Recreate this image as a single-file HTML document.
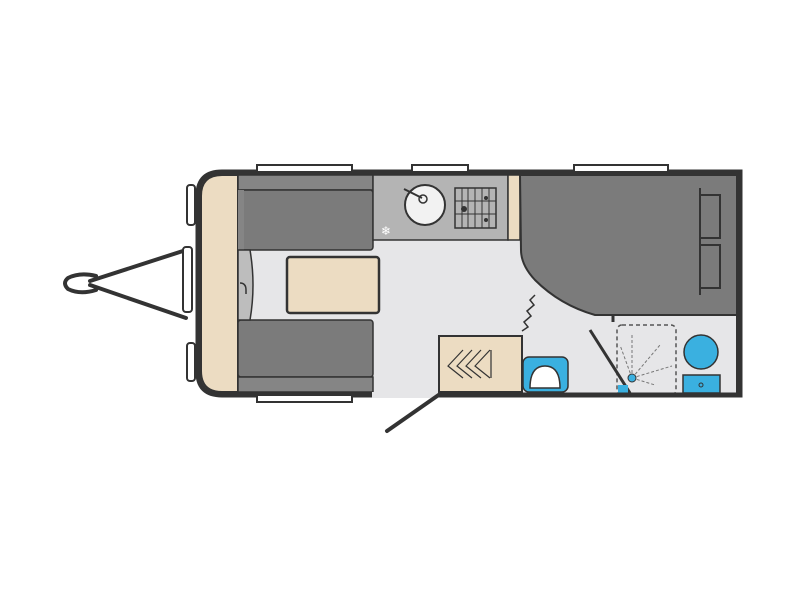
<!DOCTYPE html>
<html><head><style>body{margin:0;background:#fff}svg{display:block}</style></head><body>
<svg width="800" height="600" viewBox="0 0 800 600" xmlns="http://www.w3.org/2000/svg">
<rect width="800" height="600" fill="#fff"/>
<!-- hitch -->
<g stroke="#333" stroke-width="4" fill="none" stroke-linecap="round">
<line x1="90" y1="281" x2="186" y2="250"/>
<line x1="90" y1="285" x2="186" y2="318"/>
<path d="M96 276 Q80 272 68 278 Q62 283 68 289 Q80 295 96 290"/>
</g>
<!-- body -->
<path d="M222 172 L740 172 L740 395 L222 395 Q198 395 198 372 L198 195 Q198 172 222 172 Z" fill="#e6e6e8" stroke="#333" stroke-width="5"/>
<!-- front windows -->
<g fill="#fff" stroke="#333" stroke-width="2">
<rect x="187" y="185" width="8" height="40" rx="3"/>
<rect x="183" y="247" width="9" height="65" rx="3"/>
<rect x="187" y="343" width="8" height="38" rx="3"/>
<rect x="257" y="165" width="95" height="7"/>
<rect x="412" y="165" width="56" height="7"/>
<rect x="574" y="165" width="94" height="7"/>
<rect x="257" y="395" width="95" height="7"/>
</g>
<!-- front tan -->
<path d="M238 175 L222 175 Q201 175 201 196 L201 371 Q201 392 222 392 L238 392 Z" fill="#ecdcc2" stroke="#333" stroke-width="2"/>
<!-- seats -->
<rect x="238" y="175" width="135" height="15" fill="#858585" stroke="#333" stroke-width="1.5"/>
<rect x="238" y="190" width="135" height="60" rx="3" fill="#7b7b7b" stroke="#333" stroke-width="1.5"/>
<rect x="238" y="190" width="6" height="60" fill="#858585"/>
<rect x="238" y="320" width="135" height="57" rx="3" fill="#7b7b7b" stroke="#333" stroke-width="1.5"/>
<rect x="238" y="377" width="135" height="15" fill="#858585" stroke="#333" stroke-width="1.5"/>
<path d="M238 250 L250 250 Q256 285 250 320 L238 320 Z" fill="#bdbdbd" stroke="#333" stroke-width="1.5"/>
<path d="M240 283 Q246 283 246 290 L246 294" stroke="#333" stroke-width="1.5" fill="none"/>
<!-- table -->
<rect x="287" y="257" width="92" height="56" rx="3" fill="#ecdcc2" stroke="#333" stroke-width="2.5"/>
<!-- kitchen -->
<rect x="373" y="175" width="135" height="65" fill="#b4b4b4" stroke="#333" stroke-width="1.5"/>
<circle cx="425" cy="205" r="20" fill="#f2f2f2" stroke="#333" stroke-width="2"/>
<circle cx="423" cy="199" r="4" fill="none" stroke="#333" stroke-width="1.5"/>
<line x1="404" y1="189" x2="422" y2="198" stroke="#333" stroke-width="2"/>
<text x="381" y="235" font-family="DejaVu Sans, sans-serif" font-size="12" fill="#fff">❄</text>
<rect x="455" y="188" width="41" height="40" fill="#b4b4b4" stroke="#333" stroke-width="1.5"/>
<g stroke="#333" stroke-width="1"><line x1="462" y1="188" x2="462" y2="228"/><line x1="468" y1="188" x2="468" y2="228"/><line x1="475" y1="188" x2="475" y2="228"/><line x1="482" y1="188" x2="482" y2="228"/><line x1="489" y1="188" x2="489" y2="228"/><line x1="455" y1="201" x2="496" y2="201"/><line x1="455" y1="214" x2="496" y2="214"/></g>
<circle cx="464" cy="209" r="3" fill="#333"/><circle cx="486" cy="198" r="2" fill="#333"/><circle cx="486" cy="220" r="2" fill="#333"/>
<rect x="508" y="175" width="12" height="65" fill="#ecdcc2" stroke="#333" stroke-width="1.5"/>
<!-- bed -->
<path d="M520 175 L737 175 L737 315 L595 315 Q560 305 535 280 Q521 265 521 250 Z" fill="#7b7b7b" stroke="#333" stroke-width="2"/>
<line x1="700" y1="188" x2="700" y2="295" stroke="#333" stroke-width="2"/>
<rect x="700" y="195" width="20" height="43" fill="none" stroke="#333" stroke-width="2"/>
<rect x="700" y="245" width="20" height="43" fill="none" stroke="#333" stroke-width="2"/>
<line x1="613" y1="315" x2="613" y2="322" stroke="#333" stroke-width="3"/>
<path d="M535 295 L530 300 L534 305 L527 311 L531 316 L524 322 L528 327 L522 331" stroke="#333" stroke-width="1.5" fill="none"/>
<!-- wardrobe -->
<rect x="439" y="336" width="83" height="56" fill="#ecdcc2" stroke="#333" stroke-width="2"/>
<g stroke="#333" stroke-width="1.2" fill="none">
<path d="M463 350 L448 366 L463 378"/><path d="M472 350 L457 366 L472 378"/><path d="M481 350 L466 366 L481 378"/><path d="M490 350 L475 366 L490 378"/>
<line x1="491" y1="350" x2="491" y2="378"/>
</g>
<!-- basin -->
<rect x="523" y="357" width="45" height="35" rx="6" fill="#3ab0e0" stroke="#333" stroke-width="1.5"/>
<path d="M530 388 Q530 366 545 366 Q560 366 560 388 Z" fill="#fff" stroke="#333" stroke-width="1.5"/>
<!-- shower -->
<rect x="617" y="325" width="59" height="70" rx="5" fill="none" stroke="#555" stroke-width="1.5" stroke-dasharray="4 3"/>
<g stroke="#777" stroke-width="1" stroke-dasharray="3 2"><line x1="632" y1="378" x2="632" y2="335"/><line x1="632" y1="378" x2="660" y2="345"/><line x1="632" y1="378" x2="672" y2="366"/><line x1="632" y1="378" x2="655" y2="385"/><line x1="632" y1="378" x2="620" y2="345"/></g>
<line x1="590" y1="330" x2="630" y2="393" stroke="#333" stroke-width="3"/>
<circle cx="632" cy="378" r="4" fill="#3ab0e0" stroke="#333" stroke-width="1"/>
<rect x="618" y="385" width="10" height="8" fill="#3ab0e0"/>
<!-- toilet -->
<rect x="683" y="375" width="37" height="18" fill="#3ab0e0" stroke="#333" stroke-width="1.5"/>
<circle cx="701" cy="352" r="17" fill="#3ab0e0" stroke="#333" stroke-width="1.5"/>
<circle cx="701" cy="385" r="2" fill="none" stroke="#333"/>
<!-- walls redraw -->
<line x1="373" y1="395" x2="740" y2="395" stroke="#333" stroke-width="5"/>
<line x1="372" y1="395" x2="438" y2="395" stroke="#e6e6e8" stroke-width="6"/>
<line x1="387" y1="431" x2="440" y2="394" stroke="#333" stroke-width="4" stroke-linecap="round"/>
<line x1="737" y1="315" x2="737" y2="395" stroke="#333" stroke-width="2"/>
</svg>
</body></html>
